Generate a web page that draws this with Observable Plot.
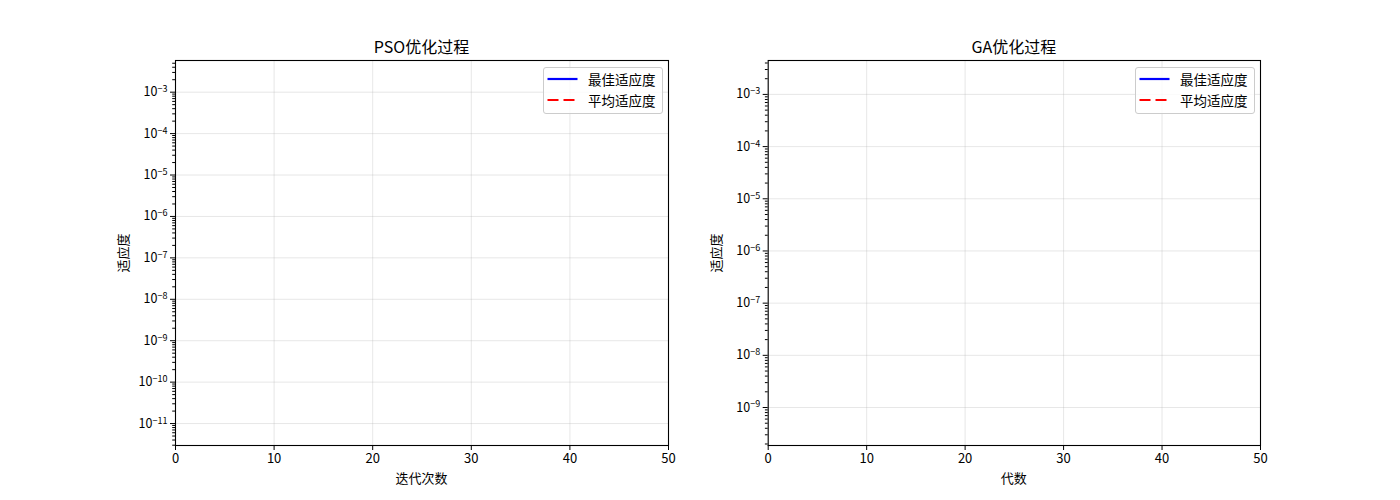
<!DOCTYPE html>
<html>
<head>
<meta charset="utf-8">
<script src="https://cdn.jsdelivr.net/npm/d3@7"></script>
<script src="https://cdn.jsdelivr.net/npm/@observablehq/plot@0.6"></script>
<style>
  html, body { margin: 0; padding: 0; background: #fff; }
  #root { position: relative; width: 1400px; height: 500px; font-family: "Noto Sans CJK SC", sans-serif; color: #000; }
  .panel { position: absolute; top: 0; }
  .lbl { position: absolute; white-space: nowrap; transform: translate(-50%, -50%); }
  .title { font-size: 16px; }
  .axlbl { font-size: 13px; }
  .ylbl { transform: translate(-50%, -50%) rotate(-90deg); }
  .legend { position: absolute; border: 1px solid #cccccc; border-radius: 3px; background: rgba(255,255,255,0.8); font-size: 13.5px; }
  .legend .row { position: absolute; left: 0; height: 20px; display: flex; align-items: center; }
  .legend svg { display: block; }
  .legend span { margin-left: 10px; }
  svg text { font-family: "Noto Sans CJK SC", sans-serif; }
</style>
</head>
<body>
<div id="root"></div>
<script>
// ---- data ----
const panelTitles = ["PSO优化过程", "GA优化过程"];
const xLabels = ["迭代次数", "代数"];
const yLabel = "适应度";
const legendLabels = ["最佳适应度", "平均适应度"];
const seriesColors = ["blue", "red"];
const xTicks = [0, 10, 20, 30, 40, 50];
const xDomain = [0, 50];
// y extents (log10)
const psoLogDomain = [-11.53, -2.235];
const gaLogDomain = [-9.728, -2.35];
const psoDecades = [-11, -10, -9, -8, -7, -6, -5, -4, -3];
const gaDecades = [-9, -8, -7, -6, -5, -4, -3];
// fitness series: nothing is visible in the reference (no plottable values)
const psoBest = [];
const psoMean = [];
const gaBest = [];
const gaMean = [];

function minorTicks(logDomain) {
  const out = [];
  for (let e = Math.floor(logDomain[0]) - 1; e <= Math.ceil(logDomain[1]); e++) {
    for (let k = 2; k <= 9; k++) {
      const v = k * Math.pow(10, e);
      const l = Math.log10(v);
      if (l >= logDomain[0] && l <= logDomain[1]) out.push(v);
    }
  }
  return out;
}

function makePanel(opts) {
  const major = opts.decades.map(e => Math.pow(10, e));
  const toRows = (arr) => arr.map((v, i) => ({gen: i, v}));
  const plot = Plot.plot({
    width: 700,
    height: 500,
    marginLeft: opts.ml,
    marginRight: opts.mr,
    marginTop: 60,
    marginBottom: 55,
    style: {fontSize: "13px", fontFamily: "Noto Sans CJK SC, sans-serif", background: "transparent", overflow: "visible"},
    x: {domain: xDomain, axis: null},
    y: {type: "log", domain: opts.logDomain.map(l => Math.pow(10, l)), axis: null},
    marks: [
      Plot.gridX(xTicks, {stroke: "#b0b0b0", strokeOpacity: 0.3, strokeWidth: 1}),
      Plot.gridY(major, {stroke: "#b0b0b0", strokeOpacity: 0.3, strokeWidth: 1}),
      Plot.line(toRows(opts.best), {x: "gen", y: "v", stroke: seriesColors[0], strokeWidth: 2}),
      Plot.line(toRows(opts.mean), {x: "gen", y: "v", stroke: seriesColors[1], strokeWidth: 2, strokeDasharray: "7,3"}),
      Plot.frame({stroke: "black", strokeWidth: 1.1}),
      Plot.axisX(xTicks, {tickSize: 5, tickPadding: 3, stroke: "black", fill: "black", label: null, tickFormat: d => String(d), fontSize: 13}),
      Plot.axisY(minorTicks(opts.logDomain), {tickSize: 2.8, stroke: "black", label: null, tickFormat: () => ""}),
      Plot.axisY(major, {tickSize: 5, tickPadding: 3, stroke: "black", fill: "black", label: null, fontSize: 12.5,
        tickFormat: d => "10|" + Math.round(Math.log10(d))})
    ]
  });
  // turn "10|-3" into 10 with superscript exponent
  d3.select(plot).selectAll("text").each(function() {
    const t = this.textContent;
    if (t.includes("|")) {
      const e = t.split("|")[1];
      const sel = d3.select(this);
      sel.text(null);
      sel.append("tspan").text("10");
      sel.append("tspan").attr("dy", "-0.45em").attr("font-size", "0.72em").text("\u2212" + String(Math.abs(+e)));
    }
  });
  return plot;
}

const root = document.getElementById("root");
const panels = [
  {left: 0, ml: 175, mr: 32, logDomain: psoLogDomain, decades: psoDecades, best: psoBest, mean: psoMean},
  {left: 700, ml: 67.7, mr: 140, logDomain: gaLogDomain, decades: gaDecades, best: gaBest, mean: gaMean}
];

panels.forEach((p, i) => {
  const wrap = document.createElement("div");
  wrap.className = "panel";
  wrap.style.left = p.left + "px";
  wrap.appendChild(makePanel(p));
  root.appendChild(wrap);

  const x0 = p.left + p.ml, x1 = p.left + 700 - p.mr, cx = (x0 + x1) / 2;

  const title = document.createElement("div");
  title.className = "lbl title";
  title.style.left = cx + "px"; title.style.top = "46px";
  title.textContent = panelTitles[i];
  root.appendChild(title);

  const xl = document.createElement("div");
  xl.className = "lbl axlbl";
  xl.style.left = cx + "px"; xl.style.top = "477px";
  xl.textContent = xLabels[i];
  root.appendChild(xl);

  const yl = document.createElement("div");
  yl.className = "lbl axlbl ylbl";
  yl.style.left = (x0 - 53) + "px"; yl.style.top = "252.5px";
  yl.textContent = yLabel;
  root.appendChild(yl);

  // legend (upper right)
  const lg = document.createElement("div");
  lg.className = "legend";
  const lw = 118, lh = 45;
  lg.style.left = (x1 - 7 - lw) + "px";
  lg.style.top = "67px";
  lg.style.width = lw + "px";
  lg.style.height = lh + "px";
  legendLabels.forEach((name, j) => {
    const row = document.createElement("div");
    row.className = "row";
    row.style.top = (1 + j * 21) + "px";
    row.style.left = "3px";
    row.innerHTML = `<svg width="31" height="20"><line x1="0.5" y1="10" x2="30.5" y2="10" stroke="${seriesColors[j]}" stroke-width="2.2" ${j === 1 ? 'stroke-dasharray="11,5"' : ''}/></svg><span>${name}</span>`;
    lg.appendChild(row);
  });
  root.appendChild(lg);
});
</script>
</body>
</html>
